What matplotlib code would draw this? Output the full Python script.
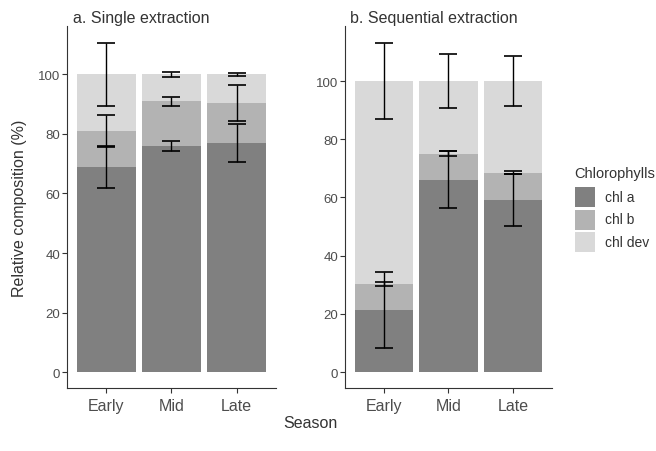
import numpy as np
import matplotlib
matplotlib.use("Agg")
import matplotlib.pyplot as plt
from matplotlib.patches import Rectangle

plt.rcParams['font.family'] = ['Liberation Sans', 'DejaVu Sans']

seasons = ["Early", "Mid", "Late"]
pigments = ["chl a", "chl b", "chl dev"]
colours = ["#808080", "#b3b3b3", "#d9d9d9"]

# a. Single extraction (% of total)
single_a = [69.0, 76.0, 77.0]
single_b = [12.0, 15.0, 13.3]
single_dev = [19.0, 9.0, 9.7]
single_err_a = [7.1, 1.8, 6.5]
single_err_b = [5.3, 1.5, 6.0]
single_err_dev = [10.6, 1.0, 0.6]

# b. Sequential extraction (% of total)
seq_a = [21.3, 66.1, 59.2]
seq_b = [8.8, 8.9, 9.3]
seq_dev = [69.9, 25.0, 31.5]
seq_err_a = [13.0, 9.8, 9.0]
seq_err_b = [0.7, 0.8, 0.5]
seq_err_dev = [13.1, 9.2, 8.5]

text_col = "#4d4d4d"
label_col = "#333333"
axis_col = "#333333"


def draw_panel(ax, vals, errs, title, title_x):
    x = np.arange(1, len(seasons) + 1)
    bottom = np.zeros(len(seasons))
    tops = []
    for v, c in zip(vals, colours):
        v = np.array(v)
        ax.bar(x, v, bottom=bottom, width=0.9, color=c, linewidth=0)
        bottom = bottom + v
        tops.append(bottom.copy())
    # error bars centred on the top of each stacked segment
    lo, hi = 0, 0
    for t, e in zip(tops, errs):
        e = np.array(e)
        ax.errorbar(x, t, yerr=e, fmt='none', ecolor='black', elinewidth=1.0,
                    capsize=6.8, capthick=1.2, zorder=3)
        lo = min(lo, (t - e).min())
        hi = max(hi, (t + e).max())
    span = hi - lo
    ax.set_ylim(lo - 0.05 * span, hi + 0.05 * span)
    ax.set_xlim(0.4, 3.6)
    ax.set_xticks(x)
    ax.set_xticklabels(seasons, fontsize=11.5, color=text_col)
    ax.set_yticks([0, 20, 40, 60, 80, 100])
    ax.tick_params(axis='y', labelsize=9.5, labelcolor=text_col, color=axis_col,
                   length=3.5, width=0.8, pad=1.5)
    ax.tick_params(axis='x', color=axis_col, length=3.5, width=0.8, pad=3)
    for s in ['top', 'right']:
        ax.spines[s].set_visible(False)
    for s in ['left', 'bottom']:
        ax.spines[s].set_color(axis_col)
        ax.spines[s].set_linewidth(0.8)
    ax.set_title(title, loc='left', fontsize=11.5, color=label_col, pad=3, x=title_x)


fig = plt.figure(figsize=(6.56, 4.52), dpi=100)
ax1 = fig.add_axes([0.1021, 0.1383, 0.3186, 0.8009])
ax2 = fig.add_axes([0.5259, 0.1383, 0.3155, 0.8009])

draw_panel(ax1, [single_a, single_b, single_dev],
           [single_err_a, single_err_b, single_err_dev], "a. Single extraction", 0.03)
draw_panel(ax2, [seq_a, seq_b, seq_dev],
           [seq_err_a, seq_err_b, seq_err_dev], "b. Sequential extraction", 0.025)

ax1.set_ylabel("Relative composition (%)", fontsize=11.5, color=label_col, labelpad=8)
fig.text(0.4726, 0.064, "Season", ha='center', va='center', fontsize=11.5, color=label_col)

# legend drawn by hand, in pixels from the top-left corner
W, H = 656, 452
fig.text(574 / W, 1 - 178 / H, "Chlorophylls", ha='left', va='baseline',
         fontsize=10.5, color=label_col)
key_tops = [188, 210.5, 233]
for name, c, top in zip(pigments, colours, key_tops):
    fig.add_artist(Rectangle((575 / W, 1 - (top + 20) / H), 20 / W, 20 / H,
                             transform=fig.transFigure, facecolor=c, edgecolor='none'))
    fig.text(605 / W, 1 - (top + 10) / H, name, ha='left', va='center',
             fontsize=10, color=label_col)

fig.savefig("out.png", dpi=100)
